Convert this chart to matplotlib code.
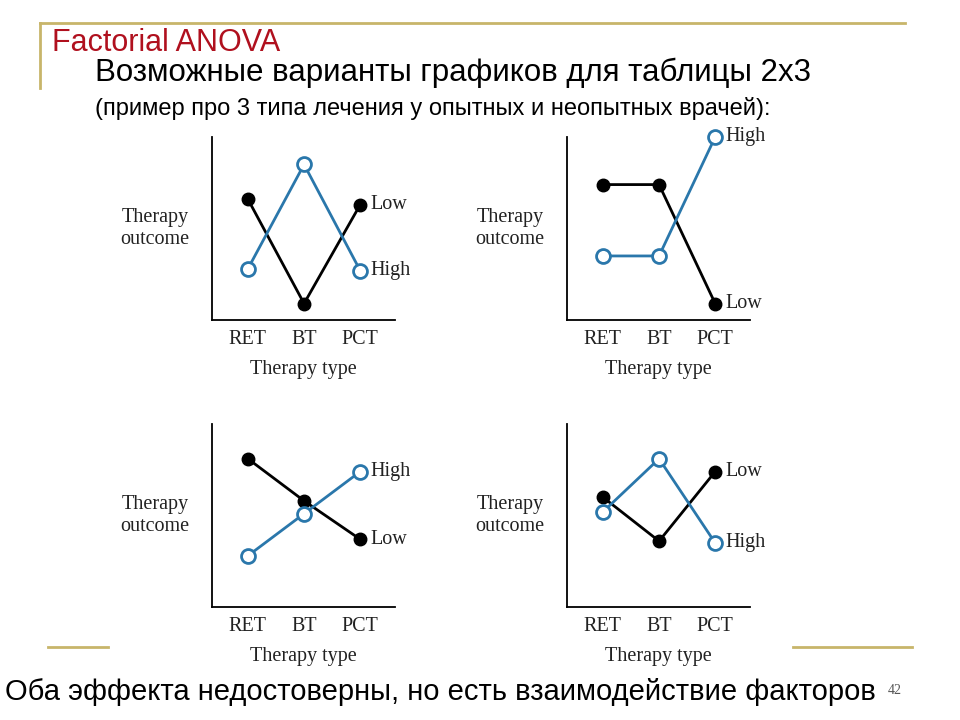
import matplotlib.pyplot as plt
from matplotlib.lines import Line2D

# data (outcome on a 0..10 scale)
therapy_types = ["RET", "BT", "PCT"]
low_tl = [6.6, 0.9, 6.3]
high_tl = [2.8, 8.5, 2.7]
low_tr = [7.4, 7.4, 0.9]
high_tr = [3.5, 3.5, 10.0]
low_bl = [8.1, 5.8, 3.7]
high_bl = [2.8, 5.1, 7.4]
low_br = [6.0, 3.6, 7.4]
high_br = [5.2, 8.1, 3.5]

blue = "#2a77ab"
gold = "#c8b56a"
serif = "Liberation Serif"
sans = "Liberation Sans"
txt = "#222222"

fig = plt.figure(figsize=(9.6, 7.2), dpi=100)
fig.patch.set_facecolor("white")

# slide decorations
fig.add_artist(Line2D([40 / 960, 905 / 960], [1 - 23 / 720] * 2, color=gold, lw=2))
fig.add_artist(Line2D([40 / 960] * 2, [1 - 23 / 720, 1 - 88 / 720], color=gold, lw=2))
fig.add_artist(Line2D([48 / 960, 108 / 960], [1 - 647 / 720] * 2, color=gold, lw=2))
fig.add_artist(Line2D([793 / 960, 912 / 960], [1 - 647 / 720] * 2, color=gold, lw=2))

fig.text(52 / 960, 1 - 43 / 720, "Factorial ANOVA", color="#b0101e",
         fontsize=22, family=sans, va="center", ha="left")
fig.text(95 / 960, 1 - 73 / 720, "Возможные варианты графиков для таблицы 2x3",
         color="black", fontsize=22.5, family=sans, va="center", ha="left")
fig.text(95 / 960, 1 - 108 / 720,
         "(пример про 3 типа лечения у опытных и неопытных врачей):",
         color="black", fontsize=17, family=sans, va="center", ha="left")
fig.text(5 / 960, 1 - 692 / 720,
         "Оба эффекта недостоверны, но есть взаимодействие факторов",
         color="black", fontsize=21, family=sans, va="center", ha="left")
fig.text(888 / 960, 1 - 690 / 720, "42", color="#555555", fontsize=10,
         family=serif, va="center", ha="left")

panels = [
    (212, 320, low_tl, high_tl),
    (567, 320, low_tr, high_tr),
    (212, 607, low_bl, high_bl),
    (567, 607, low_br, high_br),
]

x = [0, 1, 2]
for px, py, low, high in panels:
    ax = fig.add_axes([px / 960, 1 - py / 720, 183 / 960, 183 / 720])
    ax.plot(x, low, color="black", lw=2, marker="o", ms=9,
            mfc="black", mec="black", clip_on=False, zorder=3)
    ax.plot(x, high, color=blue, lw=2, marker="o", ms=10,
            mfc="white", mec=blue, mew=2, clip_on=False, zorder=4)
    ax.set_xlim(-0.64, 2.62)
    ax.set_ylim(0, 10)
    ax.set_xticks(x)
    ax.set_xticklabels(therapy_types, family=serif, fontsize=14.5, color=txt)
    ax.set_yticks([])
    ax.tick_params(axis="x", length=0, pad=7)
    for s in ["top", "right"]:
        ax.spines[s].set_visible(False)
    for s in ["left", "bottom"]:
        ax.spines[s].set_linewidth(1.3)
    ax.set_xlabel("Therapy type", family=serif, fontsize=14.5, color=txt,
                  labelpad=8)
    ax.text(-0.31, 0.5, "Therapy\noutcome", transform=ax.transAxes,
            family=serif, fontsize=14.5, color=txt, ha="center",
            va="center", linespacing=1.2)
    ax.text(2.18, low[2], "Low", family=serif, fontsize=14.5, color=txt,
            va="center", ha="left")
    ax.text(2.18, high[2], "High", family=serif, fontsize=14.5, color=txt,
            va="center", ha="left")

fig.savefig("out.png", dpi=100)
